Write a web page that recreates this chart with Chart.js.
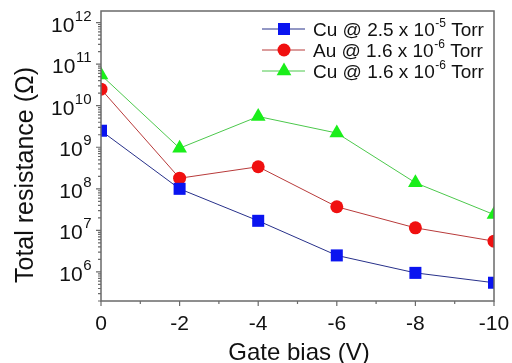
<!DOCTYPE html>
<html>
<head>
<meta charset="UTF-8">
<script src="https://cdn.jsdelivr.net/npm/chart.js"></script>
<style>
  html, body { margin: 0; padding: 0; background: #fff; }
  #wrap { width: 512px; height: 363px; }
</style>
</head>
<body>
<div id="wrap"><canvas id="chart"></canvas></div>
<script>
// data
const gateBias = [0, -2, -4, -6, -8, -10];
const cu25 = [2.5e9, 1.0e8, 1.7e7, 2.5e6, 9.5e5, 5.5e5];
const au16 = [2.5e10, 1.8e8, 3.4e8, 3.7e7, 1.15e7, 5.5e6];
const cu16 = [5.5e10, 9.5e8, 5.5e9, 2.2e9, 1.4e8, 2.4e7];

const xTicks = [0, -2, -4, -6, -8, -10];
const yExponents = [6, 7, 8, 9, 10, 11, 12];

const seriesNames = ['Cu @ 2.5 x 10', 'Au @ 1.6 x 10', 'Cu @ 1.6 x 10'];
const seriesExp = ['-5', '-6', '-6'];

const FONT = "'Liberation Sans', Arial, sans-serif";

function pts(ys) {
    return gateBias.map((x, i) => ({ x: x, y: ys[i] }));
}

const datasets = [
    { label: seriesNames[0], data: pts(cu25), borderColor: '#27308a', backgroundColor: '#0a14f0',
      pointStyle: 'rect', pointRadius: 8.5, pointBorderWidth: 0 },
    { label: seriesNames[1], data: pts(au16), borderColor: '#b83a3a', backgroundColor: '#f01010',
      pointStyle: 'circle', pointRadius: 6.5, pointBorderWidth: 0 },
    { label: seriesNames[2], data: pts(cu16), borderColor: '#4cc84c', backgroundColor: '#1aee1a',
      pointStyle: 'triangle', pointRadius: 8.5, pointBorderWidth: 0 }
];
datasets.forEach(d => { d.borderWidth = 1; d.clip = 0; d.pointHoverRadius = d.pointRadius; });

const decor = {
    id: 'decor',
    afterDatasetsDraw(chart) {
        const { ctx, chartArea: a, scales: { x, y } } = chart;
        ctx.save();
        ctx.strokeStyle = '#6a6a6a';
        ctx.lineWidth = 1.5;
        ctx.strokeRect(a.left, a.top, a.right - a.left, a.bottom - a.top);

        ctx.lineWidth = 1.2;
        ctx.beginPath();
        for (let v = -10; v <= 0; v++) {
            const px = x.getPixelForValue(v);
            const len = v % 2 === 0 ? 5 : 3;
            ctx.moveTo(px, a.bottom);
            ctx.lineTo(px, a.bottom + len);
        }
        for (let e = 5; e <= 12; e++) {
            for (let k = 1; k <= 9; k++) {
                const val = k * Math.pow(10, e);
                if (val < y.min || val > y.max) continue;
                const py = y.getPixelForValue(val);
                const len = k === 1 ? 5 : 3;
                ctx.moveTo(a.left - len, py);
                ctx.lineTo(a.left, py);
            }
        }
        ctx.stroke();

        // tick labels
        ctx.fillStyle = '#111';
        ctx.textBaseline = 'alphabetic';
        ctx.font = '21px ' + FONT;
        ctx.textAlign = 'center';
        xTicks.forEach(v => {
            ctx.fillText(String(v), x.getPixelForValue(v), 330);
        });
        ctx.textAlign = 'left';
        yExponents.forEach(e => {
            const py = y.getPixelForValue(Math.pow(10, e));
            ctx.font = '21px ' + FONT;
            const w10 = ctx.measureText('10').width;
            ctx.font = '15px ' + FONT;
            const we = ctx.measureText(String(e)).width;
            const sx = 91 - w10 - we;
            ctx.font = '21px ' + FONT;
            ctx.fillText('10', sx, py + 9);
            ctx.font = '15px ' + FONT;
            ctx.fillText(String(e), sx + w10 + 0.5, py - 2);
        });

        // axis titles
        ctx.font = '24px ' + FONT;
        ctx.textAlign = 'center';
        ctx.fillText('Gate bias (V)', 299, 360);
        ctx.save();
        ctx.translate(33, 175);
        ctx.rotate(-Math.PI / 2);
        ctx.font = '25px ' + FONT;
        ctx.fillText('Total resistance (\u03A9)', 0, 0);
        ctx.restore();

        // legend
        const rows = [29, 50, 71];
        chart.data.datasets.forEach((d, i) => {
            const yc = rows[i];
            ctx.strokeStyle = d.borderColor;
            ctx.lineWidth = 1;
            ctx.beginPath();
            ctx.moveTo(262, yc);
            ctx.lineTo(305, yc);
            ctx.stroke();
            ctx.fillStyle = d.backgroundColor;
            Chart.helpers.drawPoint(ctx, { pointStyle: d.pointStyle, radius: d.pointRadius, rotation: 0, borderWidth: 0 }, 284, yc);
            ctx.fillStyle = '#111';
            ctx.textAlign = 'left';
            ctx.font = '19px ' + FONT;
            let tx = 313;
            ctx.fillText(seriesNames[i], tx, yc + 7);
            tx += ctx.measureText(seriesNames[i]).width + 0.5;
            ctx.font = '12px ' + FONT;
            ctx.fillText(seriesExp[i], tx, yc - 2);
            tx += ctx.measureText(seriesExp[i]).width;
            ctx.font = '19px ' + FONT;
            ctx.fillText(' Torr', tx, yc + 7);
        });
        ctx.restore();
    }
};

new Chart(document.getElementById('chart'), {
    type: 'line',
    data: { datasets: datasets },
    options: {
        responsive: true,
        maintainAspectRatio: false,
        animation: false,
        layout: { padding: { top: 11, right: 18, left: 0, bottom: 0 } },
        plugins: { legend: { display: false }, tooltip: { enabled: false } },
        scales: {
            x: {
                type: 'linear', reverse: true, min: -10, max: 0,
                grid: { display: false }, border: { display: false },
                ticks: { display: false },
                afterFit: s => { s.height = 62; }
            },
            y: {
                type: 'logarithmic', min: 2e5, max: 1.9e12,
                grid: { display: false }, border: { display: false },
                ticks: { display: false },
                afterFit: s => { s.width = 101; }
            }
        }
    },
    plugins: [decor]
});
</script>
</body>
</html>
